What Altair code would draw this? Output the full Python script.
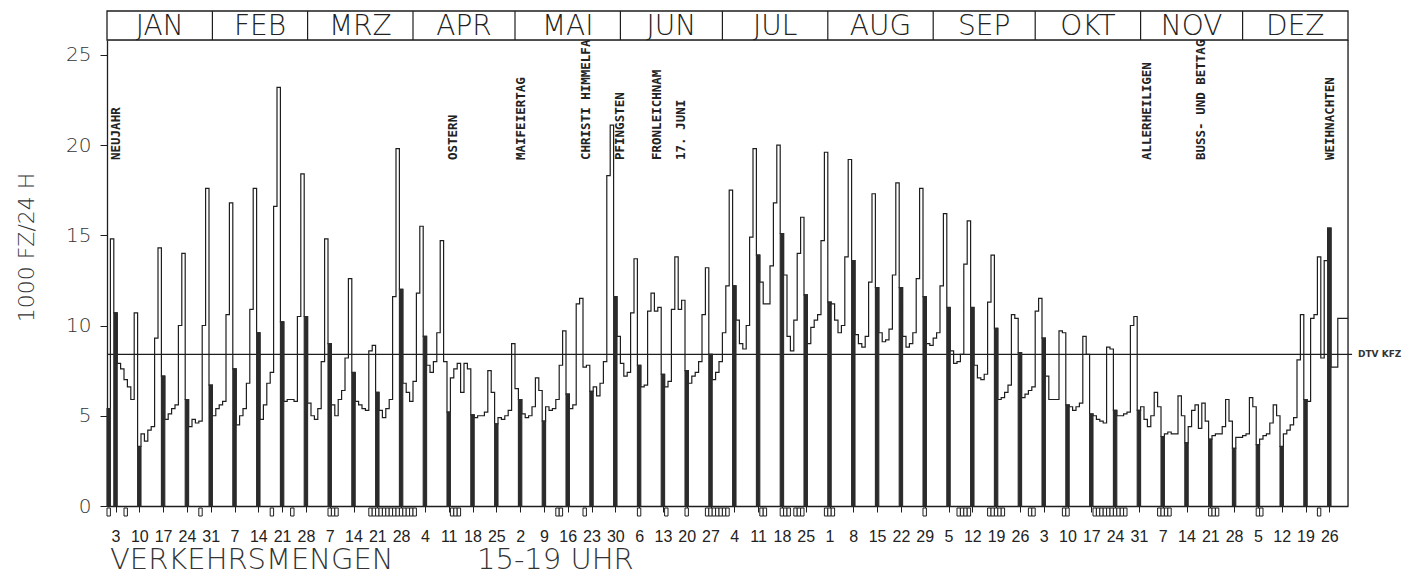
import altair as alt
import pandas as pd

# ---------------- data (1982, one value per day, 1000 Kfz 15-19 Uhr) ----------------
jan = [5.4, 14.8, 10.7, 7.9, 7.6, 7.0, 6.6, 5.9, 10.7, 3.3, 4.0, 3.6, 4.2, 4.4, 9.3, 14.3,
       7.2, 4.8, 5.1, 5.4, 5.6, 10.0, 14.0, 5.9, 4.4, 4.8, 4.6, 4.7, 10.0, 17.6, 6.7]
feb = [5.0, 5.4, 5.6, 5.8, 10.6, 16.8, 7.6, 4.5, 5.0, 5.4, 6.8, 10.9, 17.6, 9.6,
       4.8, 5.6, 6.8, 7.4, 16.6, 23.2, 10.2, 5.8, 5.9, 5.9, 5.8, 10.5, 18.4, 10.5]
mrz = [5.7, 5.0, 4.8, 5.4, 8.0, 14.8, 9.0, 5.6, 5.0, 5.9, 6.4, 8.2, 12.6, 7.4, 5.8, 5.6,
       5.4, 5.3, 8.6, 8.9, 6.3, 5.3, 4.9, 5.4, 5.9, 11.6, 19.8, 12.0, 6.8, 6.3, 5.8]
apr = [6.9, 11.8, 15.5, 9.4, 7.8, 7.4, 8.0, 9.6, 14.7, 8.0, 5.2, 7.1, 7.6, 7.9, 6.3,
       7.9, 7.6, 5.05, 4.9, 5.0, 5.0, 5.2, 7.5, 6.3, 4.55, 4.9, 4.8, 5.0, 5.3, 9.0]
mai = [6.5, 5.9, 5.1, 4.9, 5.0, 5.5, 7.1, 6.4, 4.7, 5.5, 5.3, 5.4, 5.9, 7.8, 9.7, 6.2,
       5.4, 5.6, 11.2, 11.5, 7.7, 7.8, 6.35, 6.6, 6.1, 6.8, 8.0, 18.3, 21.1, 11.6, 9.4]
jun = [7.9, 7.2, 7.4, 10.7, 13.7, 7.8, 6.6, 6.7, 10.8, 11.8, 10.8, 11.0, 7.3, 6.6, 6.9,
       10.9, 13.8, 10.9, 11.4, 7.5, 6.8, 7.2, 7.4, 8.0, 10.6, 13.2, 8.4, 7.0, 7.4, 8.0]
jul = [9.6, 12.2, 17.5, 12.2, 10.3, 9.0, 8.7, 10.0, 14.9, 19.8, 13.9, 12.4, 11.2, 11.2,
       13.3, 16.8, 20.0, 15.1, 12.8, 9.4, 8.6, 10.3, 14.0, 16.0, 11.7, 9.0, 9.9, 10.3,
       10.6, 14.7, 19.6]
aug = [11.3, 11.2, 10.3, 9.6, 10.0, 13.8, 19.2, 13.6, 9.5, 9.0, 8.8, 9.4, 12.4, 17.3,
       12.1, 9.6, 9.1, 9.2, 9.8, 12.8, 17.9, 12.1, 9.4, 8.8, 9.0, 9.6, 12.6, 17.6, 11.6,
       9.0, 8.9]
sep = [9.3, 9.6, 12.2, 16.2, 11.0, 8.6, 7.9, 8.0, 8.4, 13.4, 15.8, 11.0, 7.8, 7.1, 7.0,
       7.3, 11.3, 13.9, 9.85, 5.9, 6.0, 6.3, 6.7, 10.6, 10.4, 8.5, 6.0, 6.2, 6.4, 6.6]
okt = [10.8, 11.5, 9.3, 7.2, 5.9, 5.9, 5.9, 9.7, 9.6, 5.6, 5.5, 5.3, 5.5, 5.7, 9.4, 8.4,
       5.1, 5.0, 4.8, 4.7, 4.6, 8.8, 8.7, 5.3, 5.0, 5.0, 5.1, 5.2, 10.0, 10.5, 5.3]
nov = [5.5, 4.8, 4.4, 5.0, 6.3, 5.5, 3.85, 4.0, 4.1, 4.0, 4.0, 6.1, 5.0, 3.5, 4.4, 5.3,
       5.6, 4.3, 5.7, 4.7, 3.7, 3.9, 4.0, 4.0, 4.4, 5.9, 4.7, 3.2, 3.8, 3.8]
dez = [3.9, 4.0, 6.0, 5.5, 3.4, 3.7, 3.9, 4.0, 4.6, 5.6, 5.0, 3.3, 4.0, 4.2, 4.5, 4.9,
       8.1, 10.6, 5.9, 5.8, 10.4, 10.6, 13.8, 8.2, 13.6, 15.4, 7.7, 7.7, 10.4, 10.4, 10.4]

month_names = ["JAN", "FEB", "MRZ", "APR", "MAI", "JUN", "JUL", "AUG", "SEP", "OKT", "NOV", "DEZ"]
month_values = [jan, feb, mrz, apr, mai, jun, jul, aug, sep, okt, nov, dez]

dtv_value = [8.4]
dtv_label = ["DTV KFZ"]

holiday_names = ["NEUJAHR", "OSTERN", "MAIFEIERTAG", "CHRISTI HIMMELFAHRT", "PFINGSTEN",
                 "FRONLEICHNAM", "17. JUNI", "ALLERHEILIGEN", "BUSS- UND BETTAG", "WEIHNACHTEN"]
holiday_days = [1, 100, 120, 139, 149, 160, 167, 304, 320, 358]

# marked days under the baseline (first day, last day)
ferien_first = [0, 5, 27, 48, 54, 65, 77, 101, 132, 140, 156, 164, 170, 176, 192, 198, 202,
                211, 240, 250, 259, 271, 281, 290, 309, 324, 338, 356]
ferien_last = [0, 5, 27, 48, 54, 67, 90, 103, 133, 140, 156, 164, 170, 182, 193, 200, 204,
               213, 240, 253, 263, 272, 282, 299, 312, 326, 339, 356]

footer_texts = ["VERKEHRSMENGEN", "15-19 UHR"]

# ---------------- tables ----------------
values = [v for m in month_values for v in m]
n_days = len(values)
daily = pd.DataFrame({"day": list(range(n_days)), "v": values})
step = pd.concat([daily, pd.DataFrame({"day": [n_days], "v": [values[-1]]})], ignore_index=True)

first_sunday = 2
sundays = list(range(first_sunday, n_days, 7))
dark_days = [0] + sundays
dark = daily[daily["day"].isin(dark_days)].copy()
dark["day2"] = dark["day"] + 1

month_len = [len(m) for m in month_values]
starts = [sum(month_len[:i]) for i in range(12)]
months = pd.DataFrame({"name": month_names, "start": starts,
                       "end": [s + l for s, l in zip(starts, month_len)]})
months["mid"] = (months["start"] + months["end"]) / 2

hol = pd.DataFrame({"name": holiday_names, "day": holiday_days})

fer_days = [d for a, b in zip(ferien_first, ferien_last) for d in range(a, b + 1)]
fer = pd.DataFrame({"day": fer_days, "day2": [d + 1 for d in fer_days]})

dtv = pd.DataFrame({"x0": [0], "x1": [n_days + 1.2], "v": dtv_value, "label": dtv_label})
frame = pd.DataFrame({"x0": [0], "x1": [n_days]})

# ---------------- layout ----------------
W, H = 1241, 466
YTOP = 25.82
FONT = "DejaVu Sans"
MONO = "DejaVu Sans Mono"
TICKFONT = "Liberation Sans"
INK = "#1e1e1e"

xs = alt.Scale(domain=[0, n_days], nice=False, zero=False)
ys = alt.Scale(domain=[0, YTOP], nice=False, zero=False)

x_axis = alt.Axis(values=[d + 0.5 for d in sundays],
                  labelExpr="date(datetime(1982, 0, floor(datum.value) + 1))",
                  tickSize=6, tickColor=INK, domainColor=INK, domainWidth=1.3,
                  labelFont=TICKFONT, labelFontSize=16, labelColor="#222", labelPadding=16,
                  labelOverlap=False, labelFlush=False, grid=False, title="")
y_axis = alt.Axis(values=[0, 5, 10, 15, 20, 25], tickSize=7, tickColor=INK,
                  domainColor=INK, domainWidth=1.3,
                  labelFont=FONT, labelFontSize=20, labelFontWeight=200, labelColor="#333",
                  labelPadding=9, grid=False,
                  title="1000 FZ/24 H", titleFont=FONT, titleFontSize=22, titleFontWeight=200,
                  titleColor="#333", titleX=-81, titleY=207, titleAngle=270,
                  titleAlign="center", titleBaseline="middle")


def X(field):
    return alt.X(field, type="quantitative", scale=xs, axis=x_axis)


def Y(field):
    return alt.Y(field, type="quantitative", scale=ys, axis=y_axis)


base_line = alt.Chart(step).mark_line(interpolate="step-after", color=INK, strokeWidth=1.2).encode(
    x=X("day"), y=Y("v"),
)

bars = alt.Chart(dark).mark_rect(color="#2b2b2b", stroke="#2b2b2b", strokeWidth=1.1).encode(
    x=X("day"), x2="day2:Q", y=Y("v"), y2=alt.datum(0),
)

dtv_rule = alt.Chart(dtv).mark_rule(color=INK, strokeWidth=1.1).encode(
    x=X("x0"), x2="x1:Q", y=Y("v"),
)
dtv_text = alt.Chart(dtv).mark_text(align="left", baseline="middle", font="DejaVu Sans",
                                    fontWeight="bold", fontSize=9, color="#333").encode(
    x=alt.value(W + 10), y=Y("v"), text="label:N",
)

right_frame = alt.Chart(frame).mark_rule(color=INK, strokeWidth=1.3).encode(
    x=X("x1"), y=alt.value(0), y2=alt.value(H),
)

header_box = alt.Chart(frame).mark_rect(fill="white", stroke=INK, strokeWidth=1.3).encode(
    x=X("x0"), x2="x1:Q", y=alt.value(-29), y2=alt.value(0),
)
month_sep = alt.Chart(months[months["start"] > 0]).mark_rule(color=INK, strokeWidth=1.2).encode(
    x=X("start"), y=alt.value(-29), y2=alt.value(0),
)
month_text = alt.Chart(months).mark_text(font=FONT, fontWeight=200, fontSize=28,
                                         baseline="middle", align="center", color="#222").encode(
    x=X("mid"), y=alt.value(-13), text="name:N",
)

hol_text = alt.Chart(hol).mark_text(font=MONO, fontSize=12.5, fontWeight="bold", angle=270,
                                    align="left", baseline="top", color="#222",
                                    clip=True).encode(
    x=X("day"), y=alt.value(120), text="name:N",
)

ferien = alt.Chart(fer).mark_rect(fill="white", stroke=INK, strokeWidth=1).encode(
    x=X("day"), x2="day2:Q", y=alt.value(H + 2), y2=alt.value(H + 10),
)

footer = pd.DataFrame({"t": footer_texts, "px": [3, 370]})
foot_text = alt.Chart(footer).mark_text(font=FONT, fontWeight=200, fontSize=29, align="left",
                                        baseline="bottom", color="#333").encode(
    x=alt.X("px:Q", scale=None, axis=None), y=alt.value(535), text="t:N",
)

chart = alt.layer(
    dtv_rule, base_line, bars, right_frame, hol_text, ferien, header_box, month_sep,
    month_text, dtv_text, foot_text,
).properties(
    width=W, height=H,
    autosize=alt.AutoSizeParams(type="none"),
    padding={"left": 99, "top": 32, "right": 56, "bottom": 71},
).configure_view(stroke=None).configure(background="white")

chart.save("out.html", embed_options={"renderer": "svg", "actions": False})
